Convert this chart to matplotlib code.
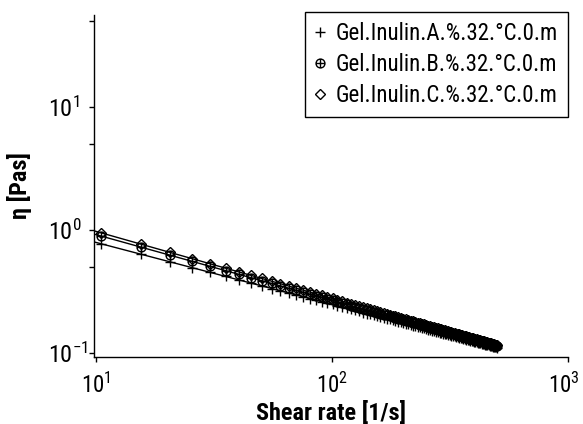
import numpy as np
import matplotlib
matplotlib.use("Agg")
import matplotlib.pyplot as plt
from matplotlib import font_manager
from matplotlib.path import Path
from matplotlib.lines import Line2D
from matplotlib.transforms import ScaledTranslation

# Shear rate [1/s]
shear_rate = [
    10.5, 15.5, 20.5, 25.5, 30.5, 35.5, 40.5, 45.5, 50.5, 55.5,
    60.5, 65.5, 70.5, 75.5, 80.5, 85.5, 90.5, 95.5, 100.5, 105.5,
    110.5, 115.5, 120.5, 125.5, 130.5, 135.5, 140.5, 145.5, 150.5, 155.5,
    160.5, 165.5, 170.5, 175.5, 180.5, 185.5, 190.5, 195.5, 200.5, 205.5,
    210.5, 215.5, 220.5, 225.5, 230.5, 235.5, 240.5, 245.5, 250.5, 255.5,
    260.5, 265.5, 270.5, 275.5, 280.5, 285.5, 290.5, 295.5, 300.5, 305.5,
    310.5, 315.5, 320.5, 325.5, 330.5, 335.5, 340.5, 345.5, 350.5, 355.5,
    360.5, 365.5, 370.5, 375.5, 380.5, 385.5, 390.5, 395.5, 400.5, 405.5,
    410.5, 415.5, 420.5, 425.5, 430.5, 435.5, 440.5, 445.5, 450.5, 455.5,
    460.5, 465.5, 470.5, 475.5, 480.5, 485.5, 490.5, 495.5, 500.5,
]

# Viscosity [Pas]
eta_a = [
    0.7701, 0.6328, 0.5496, 0.4924, 0.4499, 0.4168, 0.3900, 0.3678, 0.3490, 0.3327,
    0.3186, 0.3061, 0.2949, 0.2849, 0.2759, 0.2676, 0.2601, 0.2531, 0.2467, 0.2407,
    0.2352, 0.2300, 0.2251, 0.2206, 0.2163, 0.2122, 0.2083, 0.2047, 0.2013, 0.1980,
    0.1948, 0.1918, 0.1890, 0.1862, 0.1836, 0.1811, 0.1787, 0.1764, 0.1742, 0.1720,
    0.1699, 0.1679, 0.1660, 0.1642, 0.1623, 0.1606, 0.1589, 0.1573, 0.1557, 0.1541,
    0.1526, 0.1512, 0.1498, 0.1484, 0.1471, 0.1457, 0.1445, 0.1432, 0.1420, 0.1409,
    0.1397, 0.1386, 0.1375, 0.1364, 0.1354, 0.1344, 0.1334, 0.1324, 0.1314, 0.1305,
    0.1296, 0.1287, 0.1278, 0.1269, 0.1261, 0.1253, 0.1245, 0.1237, 0.1229, 0.1221,
    0.1214, 0.1206, 0.1199, 0.1192, 0.1185, 0.1178, 0.1171, 0.1165, 0.1158, 0.1152,
    0.1145, 0.1139, 0.1133, 0.1127, 0.1121, 0.1115, 0.1110, 0.1104, 0.1098,
]
eta_b = [
    0.8900, 0.7229, 0.6227, 0.5542, 0.5036, 0.4644, 0.4329, 0.4068, 0.3847, 0.3658,
    0.3494, 0.3349, 0.3220, 0.3104, 0.2999, 0.2904, 0.2817, 0.2738, 0.2664, 0.2596,
    0.2533, 0.2474, 0.2418, 0.2366, 0.2317, 0.2271, 0.2228, 0.2187, 0.2147, 0.2110,
    0.2075, 0.2041, 0.2009, 0.1978, 0.1949, 0.1921, 0.1894, 0.1867, 0.1843, 0.1818,
    0.1795, 0.1773, 0.1751, 0.1730, 0.1710, 0.1691, 0.1672, 0.1654, 0.1636, 0.1619,
    0.1602, 0.1586, 0.1570, 0.1555, 0.1540, 0.1526, 0.1512, 0.1498, 0.1484, 0.1471,
    0.1459, 0.1446, 0.1434, 0.1422, 0.1411, 0.1400, 0.1389, 0.1378, 0.1367, 0.1357,
    0.1347, 0.1337, 0.1327, 0.1318, 0.1309, 0.1300, 0.1291, 0.1282, 0.1273, 0.1265,
    0.1257, 0.1249, 0.1241, 0.1233, 0.1225, 0.1218, 0.1210, 0.1203, 0.1196, 0.1189,
    0.1182, 0.1175, 0.1168, 0.1162, 0.1155, 0.1149, 0.1143, 0.1137, 0.1130,
]
eta_c = [
    0.9451, 0.7644, 0.6563, 0.5827, 0.5285, 0.4866, 0.4529, 0.4250, 0.4016, 0.3814,
    0.3639, 0.3485, 0.3348, 0.3225, 0.3114, 0.3014, 0.2922, 0.2837, 0.2760, 0.2687,
    0.2621, 0.2558, 0.2500, 0.2445, 0.2393, 0.2345, 0.2299, 0.2256, 0.2214, 0.2175,
    0.2138, 0.2103, 0.2069, 0.2036, 0.2006, 0.1976, 0.1947, 0.1920, 0.1894, 0.1869,
    0.1844, 0.1821, 0.1798, 0.1776, 0.1755, 0.1735, 0.1715, 0.1696, 0.1678, 0.1660,
    0.1642, 0.1625, 0.1609, 0.1593, 0.1577, 0.1562, 0.1547, 0.1533, 0.1519, 0.1506,
    0.1492, 0.1479, 0.1467, 0.1454, 0.1442, 0.1431, 0.1419, 0.1408, 0.1397, 0.1386,
    0.1376, 0.1365, 0.1355, 0.1345, 0.1336, 0.1326, 0.1317, 0.1308, 0.1299, 0.1290,
    0.1282, 0.1273, 0.1265, 0.1257, 0.1249, 0.1241, 0.1233, 0.1226, 0.1218, 0.1211,
    0.1204, 0.1197, 0.1190, 0.1183, 0.1176, 0.1170, 0.1163, 0.1157, 0.1150,
]

series_labels = [
    "Gel.Inulin.A.%.32.°C.0.m",
    "Gel.Inulin.B.%.32.°C.0.m",
    "Gel.Inulin.C.%.32.°C.0.m",
]

x_ticks = [10, 100, 1000]
x_tick_labels = [r"$\mathregular{10^{1}}$", r"$\mathregular{10^{2}}$", r"$\mathregular{10^{3}}$"]
y_ticks = [0.1, 1, 10]
y_tick_labels = [r"$\mathregular{10^{-1}}$", r"$\mathregular{10^{0}}$", r"$\mathregular{10^{1}}$"]
y_extra_ticks = [0.5, 5, 50]

x_label = "Shear rate [1/s]"
y_label = "η [Pas]"

# ---- fonts: prefer a narrow sans if one is available ----
installed = {f.name for f in font_manager.fontManager.ttflist}
narrow_candidates = ["Liberation Sans Narrow", "Roboto Condensed", "DejaVu Sans Condensed",
                     "Noto Sans Condensed", "Open Sans Condensed", "Noto Sans Display Condensed"]
narrow = [n for n in narrow_candidates if n in installed]
base = narrow[0] if narrow else "Roboto"
plt.rcParams["font.family"] = [base, "DejaVu Sans"]
plt.rcParams["mathtext.fontset"] = "custom"
plt.rcParams["mathtext.rm"] = base
plt.rcParams["mathtext.it"] = base + ":italic"
plt.rcParams["mathtext.bf"] = base + ":bold"

FS = 17.5 if narrow else 15.5
FS_LEG = 16.5 if narrow else 14.5
FS_TICK = 16.5 if narrow else 14.5

# circle with a cross inside
circ = Path.unit_circle()
cross = Path([[-1, 0], [1, 0], [0, -1], [0, 1]],
             [Path.MOVETO, Path.LINETO, Path.MOVETO, Path.LINETO])
oplus = Path.make_compound_path(circ, cross)

styles = [
    dict(marker="+", markersize=7.0, markeredgewidth=1.0),
    dict(marker=oplus, markersize=6.4, markeredgewidth=1.0, markerfacecolor="none"),
    dict(marker="D", markersize=4.6, markeredgewidth=1.0, markerfacecolor="none"),
]

W, H = 583, 424
fig = plt.figure(figsize=(W / 100, H / 100), dpi=100)
ax = fig.add_axes([94 / W, 1 - 357 / H, 474 / W, 342 / H])
ax.set_xscale("log")
ax.set_yscale("log")
x_left = 9.807
ax.set_xlim(x_left, 1000)
ax.set_ylim(0.0922, 56)

x = np.asarray(shear_rate)
handles = []
for eta, st, lab in zip([eta_a, eta_b, eta_c], styles, series_labels):
    y = np.asarray(eta)
    # power-law fit in log-log space
    coef = np.polyfit(np.log10(x), np.log10(y), 1)
    xf = np.array([x_left, x[-1]])
    yf = 10 ** np.polyval(coef, np.log10(xf))
    ax.plot(xf, yf, color="black", linewidth=1.0, zorder=2, solid_capstyle="butt")
    ax.plot(x, y, linestyle="none", color="black", markeredgecolor="black", zorder=3, **st)
    handles.append(Line2D([], [], linestyle="none", color="black",
                          markeredgecolor="black", label=lab, **st))

for side in ("top", "right"):
    ax.spines[side].set_visible(False)
for side in ("left", "bottom"):
    ax.spines[side].set_linewidth(1.0)

ax.xaxis.set_major_locator(matplotlib.ticker.FixedLocator(x_ticks))
ax.xaxis.set_major_formatter(matplotlib.ticker.FixedFormatter(x_tick_labels))
ax.xaxis.set_minor_locator(matplotlib.ticker.NullLocator())
ax.yaxis.set_major_locator(matplotlib.ticker.FixedLocator(y_ticks))
ax.yaxis.set_major_formatter(matplotlib.ticker.FixedFormatter(y_tick_labels))
ax.yaxis.set_minor_locator(matplotlib.ticker.FixedLocator(y_extra_ticks))
ax.yaxis.set_minor_formatter(matplotlib.ticker.NullFormatter())

ax.tick_params(axis="both", which="both", direction="out", length=3.8, width=1.0,
               colors="black")
ax.tick_params(axis="x", pad=7.5, labelsize=FS_TICK)
ax.tick_params(axis="y", pad=29, labelsize=FS)
for lbl in ax.get_yticklabels():
    lbl.set_horizontalalignment("left")
# keep the last x label inside the canvas
last = ax.get_xticklabels()[-1]
last.set_transform(last.get_transform() + ScaledTranslation(-4 / 100, 0, fig.dpi_scale_trans))

ax.set_xlabel(x_label, fontsize=FS, fontweight="bold", labelpad=2)
ax.set_ylabel(y_label, fontsize=FS, fontweight="bold", labelpad=12)

leg = ax.legend(handles=handles, loc="upper right", bbox_to_anchor=(1.0, 1.008),
                borderaxespad=0, fontsize=FS_LEG, frameon=True, fancybox=False,
                edgecolor="black", framealpha=1, handlelength=0.5,
                handletextpad=0.45, borderpad=0.42, labelspacing=0.36)
leg.get_frame().set_linewidth(1.0)

fig.savefig("out.png", dpi=100)
